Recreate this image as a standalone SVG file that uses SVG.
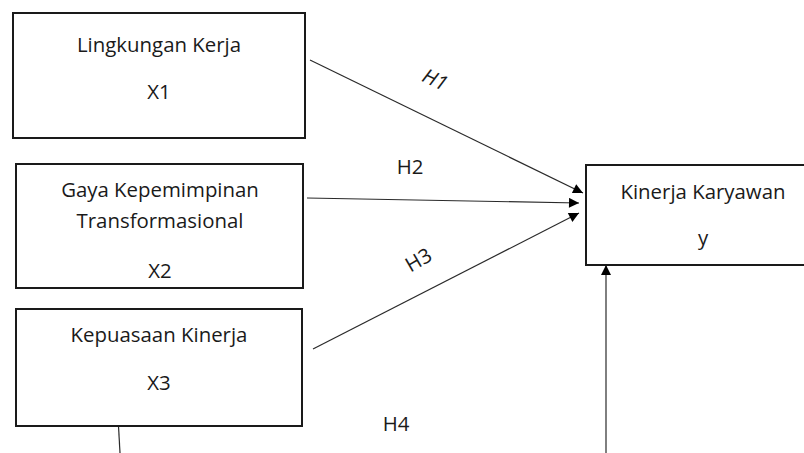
<svg xmlns="http://www.w3.org/2000/svg" width="804" height="453" viewBox="0 0 804 453">
<style>
.box{fill:#fff;stroke:#1a1a1a;stroke-width:2}
.t{font-family:"Open Sans","Noto Sans",sans-serif;font-size:20.4px;fill:#1a1a1a;text-anchor:middle}
.c{stroke:#2a2a2a;stroke-width:1.2;fill:none}
.ca{stroke:#2a2a2a;stroke-width:1.2;fill:none;marker-end:url(#ah)}
</style>
<defs>
<marker id="ah" viewBox="0 0 10 10" refX="10" refY="5" markerWidth="11" markerHeight="10" markerUnits="userSpaceOnUse" orient="auto">
<path d="M0,0 L10,5 L0,10 Z" fill="#000"/>
</marker>
</defs>
<rect width="804" height="453" fill="#fff"/>
<g id="connectors">
<line class="ca" x1="310" y1="60" x2="583" y2="193"/>
<line class="ca" x1="307" y1="198" x2="579" y2="203"/>
<line class="ca" x1="313" y1="349" x2="579" y2="213"/>
<line class="ca" x1="606" y1="453" x2="606" y2="265"/>
<line class="c" x1="118.5" y1="426" x2="120" y2="453"/>
<text class="t" transform="translate(432,86) rotate(25)" font-style="italic">H1</text>
<text class="t" x="410" y="174">H2</text>
<text class="t" transform="translate(422,266) rotate(-30)">H3</text>
<text class="t" x="396" y="431">H4</text>
</g>
<g id="x1">
<rect class="box" x="13" y="13" width="292" height="125"/>
<text class="t" x="159" y="52">Lingkungan Kerja</text>
<text class="t" x="159" y="99">X1</text>
</g>
<g id="x2">
<rect class="box" x="16" y="164" width="287" height="124"/>
<text class="t" x="160" y="197">Gaya Kepemimpinan</text>
<text class="t" x="160" y="228">Transformasional</text>
<text class="t" x="160" y="278">X2</text>
</g>
<g id="x3">
<rect class="box" x="16" y="309" width="286" height="117"/>
<text class="t" x="159" y="342">Kepuasaan Kinerja</text>
<text class="t" x="159" y="390">X3</text>
</g>
<g id="y">
<rect class="box" x="586" y="165" width="224" height="100"/>
<text class="t" x="703" y="199">Kinerja Karyawan</text>
<text class="t" x="703" y="245">y</text>
</g>
</svg>
